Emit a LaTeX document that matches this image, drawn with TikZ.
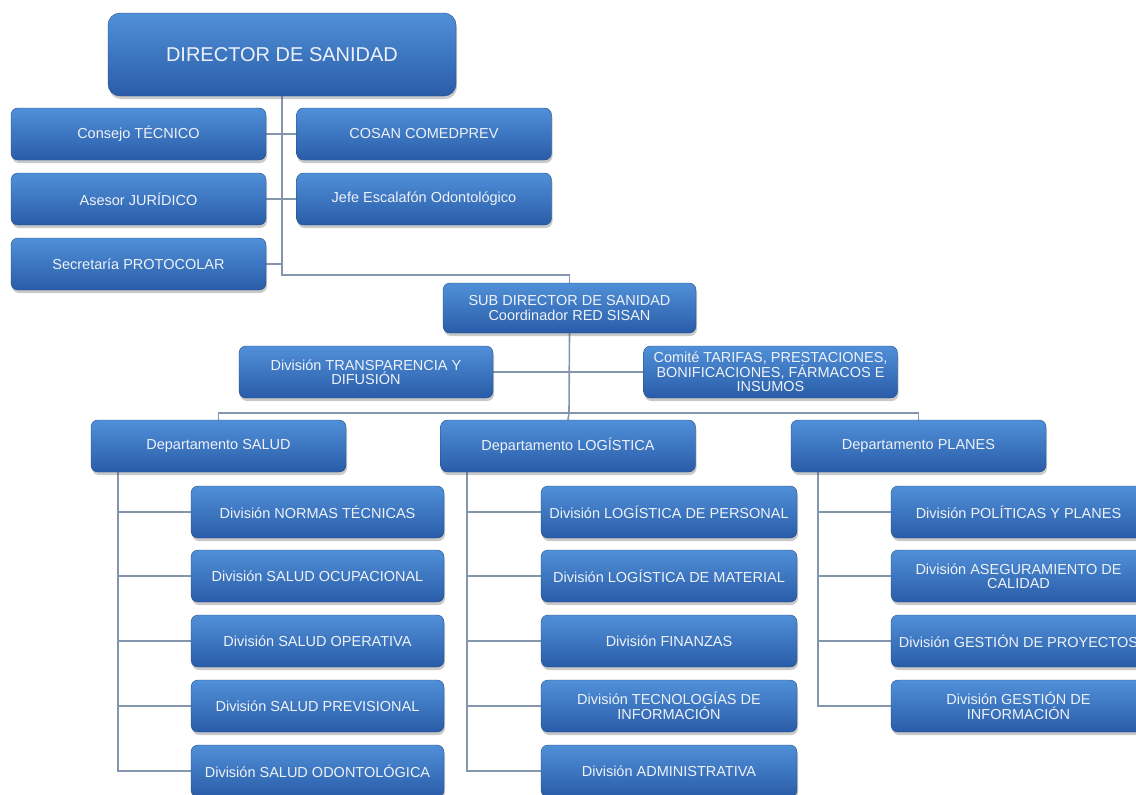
\documentclass[tikz,border=0pt]{standalone}
\usepackage{fontspec}
\setmainfont{Liberation Sans}
\usetikzlibrary{shadows}
\definecolor{boxtop}{HTML}{5090D8}
\definecolor{boxbot}{HTML}{2A5CA8}
\definecolor{boxtext}{HTML}{EEF2F8}
\definecolor{linecol}{HTML}{8496AE}
\pgfdeclarelayer{background}
\pgfsetlayers{background,main}
\tikzset{
  orgbox/.style={rectangle, rounded corners=7pt, top color=boxtop, bottom color=boxbot,
    draw=boxbot!80!black, line width=0.4pt, text=boxtext, align=center, inner sep=1pt,
    font=\fontsize{14.5}{14.5}\selectfont,
    minimum width=255pt, minimum height=52pt,
    drop shadow={shadow xshift=1pt, shadow yshift=-3pt, opacity=0.3, fill=black!70}},
  bigbox/.style={orgbox, rounded corners=12pt, minimum width=348pt, minimum height=83pt,
    font=\fontsize{20}{22}\selectfont},
  conn/.style={draw=linecol, line width=1.6pt}
}
\begin{document}
\begin{tikzpicture}[x=1pt,y=-1pt]
\useasboundingbox (0,0) rectangle (1136,795);
\clip (0,0) rectangle (1136,795);
% top level
\node[bigbox] (dir) at (282,54.5) {DIRECTOR DE SANIDAD};
\node[orgbox] (cons) at (138.5,134) {Consejo TÉCNICO};
\node[orgbox] (ases) at (138.5,199) {Asesor JURÍDICO};
\node[orgbox] (secr) at (138.5,264) {Secretaría PROTOCOLAR};
\node[orgbox] (cosan) at (424,134) {COSAN COMEDPREV};
\node[orgbox] (jefe) at (424,199) {Jefe Escalafón Odontológico};
\coordinate (j1) at (282,275);
% sub director
\node[orgbox, minimum width=253pt, minimum height=50pt] (sub) at (569.5,308) {SUB DIRECTOR DE SANIDAD\\Coordinador RED SISAN};
\node[orgbox, minimum width=254pt] (trans) at (366,372) {División TRANSPARENCIA Y\\DIFUSIÓN};
\node[orgbox, minimum width=254pt] (comite) at (770.5,372) {Comité TARIFAS, PRESTACIONES,\\BONIFICACIONES, FÁRMACOS E\\INSUMOS};
\coordinate (j2) at (569,413);
% departments
\node[orgbox] (dsal) at (218.5,446) {Departamento SALUD};
\node[orgbox] (dlog) at (568,446) {Departamento LOGÍSTICA};
\node[orgbox] (dpla) at (918.5,446) {Departamento PLANES};
% salud
\node[orgbox, minimum width=253pt] (s1) at (317.5,512) {División NORMAS TÉCNICAS};
\node[orgbox, minimum width=253pt] (s2) at (317.5,576) {División SALUD OCUPACIONAL};
\node[orgbox, minimum width=253pt] (s3) at (317.5,641) {División SALUD OPERATIVA};
\node[orgbox, minimum width=253pt] (s4) at (317.5,706) {División SALUD PREVISIONAL};
\node[orgbox, minimum width=253pt] (s5) at (317.5,771) {División SALUD ODONTOLÓGICA};
\coordinate (ts) at (118,0);
% logistica
\node[orgbox, minimum width=256pt] (l1) at (669,512) {División LOGÍSTICA DE PERSONAL};
\node[orgbox, minimum width=256pt] (l2) at (669,576) {División LOGÍSTICA DE MATERIAL};
\node[orgbox, minimum width=256pt] (l3) at (669,641) {División FINANZAS};
\node[orgbox, minimum width=256pt] (l4) at (669,706) {División TECNOLOGÍAS DE\\INFORMACIÓN};
\node[orgbox, minimum width=256pt] (l5) at (669,771) {División ADMINISTRATIVA};
\coordinate (tl) at (467,0);
% planes
\node[orgbox] (p1) at (1018.5,512) {División POLÍTICAS Y PLANES};
\node[orgbox] (p2) at (1018.5,576) {División ASEGURAMIENTO DE\\CALIDAD};
\node[orgbox] (p3) at (1018.5,641) {División GESTIÓN DE PROYECTOS};
\node[orgbox] (p4) at (1018.5,706) {División GESTIÓN DE\\INFORMACIÓN};
\coordinate (tp) at (818,0);
\begin{pgfonlayer}{background}
\draw[conn] (dir.south) -- (j1) -| (sub.north);
\draw[conn] (cons.east) -- (cosan.west);
\draw[conn] (ases.east) -- (jefe.west);
\draw[conn] (secr.east) -- (secr.east -| j1);
\draw[conn] (sub.south) -- (j2);
\draw[conn] (trans.east) -- (comite.west);
\draw[conn] (dsal.north) |- (j2) -| (dpla.north);
\draw[conn] (j2) -- (dlog.north);
\draw[conn] (dsal.south -| ts) -- (s5.west -| ts) -- (s5.west);
\foreach \n in {s1,s2,s3,s4} \draw[conn] (\n.west -| ts) -- (\n.west);
\draw[conn] (dlog.south -| tl) -- (l5.west -| tl) -- (l5.west);
\foreach \n in {l1,l2,l3,l4} \draw[conn] (\n.west -| tl) -- (\n.west);
\draw[conn] (dpla.south -| tp) -- (p4.west -| tp) -- (p4.west);
\foreach \n in {p1,p2,p3} \draw[conn] (\n.west -| tp) -- (\n.west);
\end{pgfonlayer}
\end{tikzpicture}
\end{document}
